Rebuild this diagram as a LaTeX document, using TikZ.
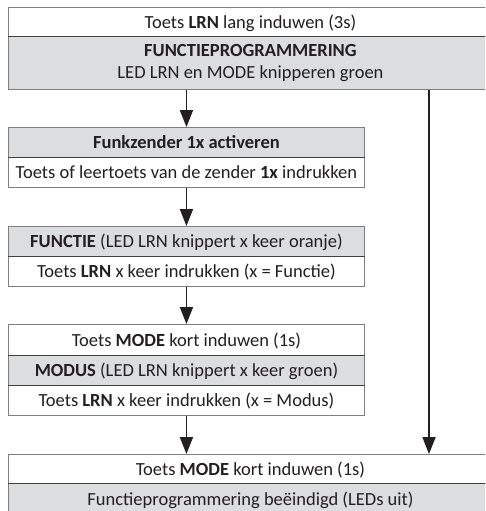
\documentclass[tikz,border=0pt]{standalone}
\usepackage{fontspec}
\setmainfont{Carlito}
\usetikzlibrary{arrows.meta}
\definecolor{rowgray}{HTML}{DCDDDE}
\definecolor{edgegray}{HTML}{7F7F7F}
\definecolor{divgray}{HTML}{404040}
\definecolor{txt}{HTML}{231F20}
\tikzset{
  row/.style={rectangle, anchor=north west, inner sep=0pt, draw=edgegray, line width=0.9pt,
    font=\fontsize{18.5}{22}\selectfont, text=txt, align=center},
  single/.style={text height=13pt, text depth=0pt},
  wide/.style={minimum width=484pt},
  narrow/.style={minimum width=356pt},
  white/.style={fill=white},
  grey/.style={fill=rowgray},
  divider/.style={draw=divgray, line width=0.9pt},
  arr/.style={draw=txt, line width=1.8pt, -{Triangle[length=17pt,width=13pt]}}
}
\begin{document}
\begin{tikzpicture}[x=1pt,y=-1pt]
\useasboundingbox (0,0) rectangle (485,511);
\clip (0,0) rectangle (485,511);
% top block
\node[row,single,wide,white,minimum height=29pt] (t1) at (8,7) {Toets \textbf{LRN} lang induwen (3s)};
\node[row,wide,grey,minimum height=53pt] (t2) at (8,36) {\textbf{FUNCTIEPROGRAMMERING}\\LED LRN en MODE knipperen groen};
% funkzender
\node[row,single,narrow,grey,minimum height=30pt] (f1) at (8,127) {\textbf{Funkzender 1x activeren}};
\node[row,single,narrow,white,minimum height=30pt] (f2) at (8,157) {Toets of leertoets van de zender \textbf{1x} indrukken};
% functie
\node[row,single,narrow,grey,minimum height=30pt] (g1) at (8,226) {\textbf{FUNCTIE} (LED LRN knippert x keer oranje)};
\node[row,single,narrow,white,minimum height=30pt] (g2) at (8,256) {Toets \textbf{LRN} x keer indrukken (x = Functie)};
% modus
\node[row,single,narrow,white,minimum height=31pt] (m1) at (8,324) {Toets \textbf{MODE} kort induwen (1s)};
\node[row,single,narrow,grey,minimum height=30pt] (m2) at (8,355) {\textbf{MODUS} (LED LRN knippert x keer groen)};
\node[row,single,narrow,white,minimum height=30pt] (m3) at (8,385) {Toets \textbf{LRN} x keer indrukken (x = Modus)};
% end
\node[row,single,wide,white,minimum height=29pt] (e1) at (8,454) {Toets \textbf{MODE} kort induwen (1s)};
\node[row,single,wide,grey,minimum height=31pt] (e2) at (8,483) {Functieprogrammering beëindigd (LEDs uit)};
% dividers
\draw[divider] (t1.south west) -- (t1.south east);
\draw[divider] (f1.south west) -- (f1.south east);
\draw[divider] (g1.south west) -- (g1.south east);
\draw[divider] (m1.south west) -- (m1.south east);
\draw[divider] (m2.south west) -- (m2.south east);
\draw[divider] (e1.south west) -- (e1.south east);
% arrows
\coordinate (rx) at (429,89);
\draw[arr] (t2.south -| f1.north) -- (f1.north);
\draw[arr] (f2.south) -- (g1.north);
\draw[arr] (g2.south) -- (m1.north);
\draw[arr] (m3.south) -- (m3.south |- e1.north);
\draw[arr] (t2.south -| rx) -- (e1.north -| rx);
\end{tikzpicture}
\end{document}
